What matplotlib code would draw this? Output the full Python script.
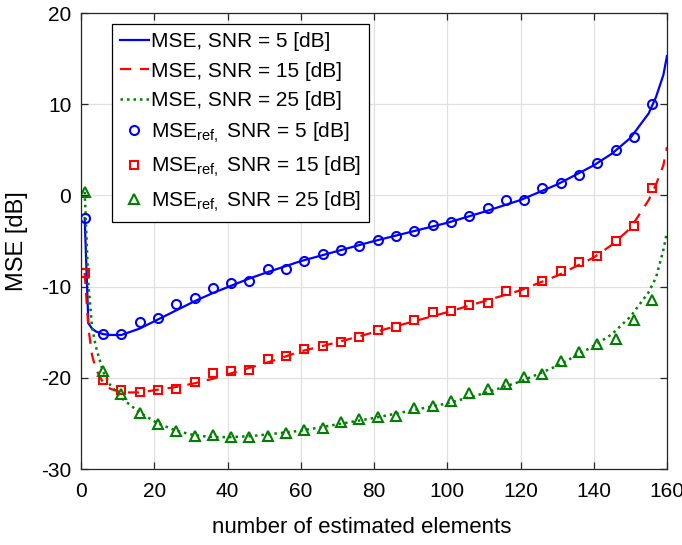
#!/usr/bin/env python3

'''
MSE versus number of estimated elements, three SNR values.
'''

import numpy as np
import matplotlib
matplotlib.use('Agg')
import matplotlib.pyplot as pl

# reference points (markers), every 5th element
x_ref=[1,6,11,16,21,26,31,36,41,46,51,56,61,66,71,76,81,86,91,96,
       101,106,111,116,121,126,131,136,141,146,151,156]
mse_ref_5=[-2.5,-15.2,-15.2,-13.9,-13.4,-11.9,-11.2,-10.2,-9.6,-9.4,
           -8.1,-8.1,-7.2,-6.4,-6.0,-5.5,-4.9,-4.4,-3.9,-3.2,
           -2.9,-2.2,-1.4,-0.5,-0.5,0.8,1.4,2.2,3.6,5.0,6.4,10.0]
mse_ref_15=[-8.5,-20.2,-21.3,-21.5,-21.3,-21.2,-20.5,-19.5,-19.3,-19.1,
            -17.9,-17.6,-16.8,-16.5,-16.1,-15.5,-14.8,-14.4,-13.7,-12.8,
            -12.7,-12.0,-11.8,-10.5,-10.6,-9.4,-8.3,-7.3,-6.6,-5.0,-3.3,0.8]
mse_ref_25=[0.4,-19.3,-21.8,-23.9,-25.1,-25.8,-26.4,-26.3,-26.5,-26.5,
            -26.4,-26.1,-25.7,-25.5,-24.8,-24.5,-24.3,-24.2,-23.3,-23.1,
            -22.5,-21.7,-21.2,-20.7,-19.9,-19.6,-18.2,-17.2,-16.3,-15.7,-13.7,-11.5]

# theoretical curves
x_th=[1,2,3,4,6,8,11,16,21,26,31,36,41,46,51,60,70,80,90,100,
      110,120,130,140,145,150,155,157,159,160]
mse_5=[-2.5,-14.0,-14.6,-14.9,-15.2,-15.3,-15.3,-14.6,-13.6,-12.6,-11.6,-10.7,-9.9,-9.1,-8.4,
       -7.2,-6.1,-5.0,-4.0,-3.0,-1.8,-0.5,1.2,3.3,4.6,6.3,9.0,10.8,13.2,15.3]
mse_15=[-8.5,-14.5,-17.5,-19.0,-20.5,-21.2,-21.6,-21.6,-21.3,-21.0,-20.6,-20.1,-19.5,-18.9,-18.3,
        -17.1,-16.1,-15.0,-13.9,-12.8,-11.6,-10.4,-8.8,-6.8,-5.4,-3.6,-0.5,1.2,3.3,5.3]
mse_25=[0.4,-9.6,-14.4,-16.5,-19.3,-20.8,-22.2,-23.8,-25.0,-25.8,-26.3,-26.5,-26.5,-26.4,-26.2,
        -25.8,-25.1,-24.4,-23.6,-22.8,-21.7,-20.4,-18.7,-16.5,-15.2,-13.3,-10.6,-9.0,-6.0,-4.0]

pl.rcParams['font.family']='Liberation Sans'
pl.rcParams['mathtext.fontset']='custom'
pl.rcParams['mathtext.rm']='Liberation Sans'
pl.rcParams['mathtext.default']='regular'
pl.rcParams['axes.unicode_minus']=False

blue='#0000ff'; red='#ff0000'; green='#008000'

fig=pl.figure(figsize=(6.82,5.45),dpi=100)
ax=fig.add_axes([0.1188,0.1394,0.8592,0.8366])

ax.plot(x_th,mse_5,'-',color=blue,lw=1.6,label='MSE, SNR = 5 [dB]')
ax.plot(x_th,mse_15,color=red,lw=1.6,ls=(0,(5,4)),label='MSE, SNR = 15 [dB]')
ax.plot(x_th,mse_25,color=green,lw=1.8,ls=(0,(1,1.6)),label='MSE, SNR = 25 [dB]')
mk={'ls':'none','mfc':'none','mew':1.5,'ms':6.5}
ax.plot(x_ref,mse_ref_5,marker='o',color=blue,label='MSE$_{ref,}$ SNR = 5 [dB]',**mk)
ax.plot(x_ref,mse_ref_15,marker='s',color=red,label='MSE$_{ref,}$ SNR = 15 [dB]',
        **{**mk,'ms':5.5})
ax.plot(x_ref,mse_ref_25,marker='^',color=green,label='MSE$_{ref,}$ SNR = 25 [dB]',**mk)

ax.set_xlim(0,160)
ax.set_ylim(-30,20)
ax.set_xticks(np.arange(0,161,20))
ax.set_yticks(np.arange(-30,21,10))
ax.grid(True,color='#e0e0e0',lw=0.9)
ax.set_axisbelow(True)
ax.tick_params(direction='in',length=5,width=0.9,top=True,right=True,
               labelsize=15,colors='#262626',labelcolor='black')
ax.tick_params(axis='x',pad=9)
ax.tick_params(axis='y',pad=7)
for s in ax.spines.values():
    s.set_color('#262626'); s.set_linewidth(0.9)

ax.set_xlabel('number of estimated elements',fontsize=16)
ax.xaxis.set_label_coords(0.479,-0.105)
ax.set_ylabel('MSE [dB]',fontsize=17)
ax.yaxis.set_label_coords(-0.09,0.5)

leg=ax.legend(loc='upper left',bbox_to_anchor=(0.053,0.976),borderaxespad=0,
              fontsize=15,fancybox=False,framealpha=1,edgecolor='black',
              handlelength=1.35,handletextpad=0.1,labelspacing=0.5,borderpad=0.4)
leg.get_frame().set_linewidth(0.9)

pl.savefig('out.png',dpi=100)
